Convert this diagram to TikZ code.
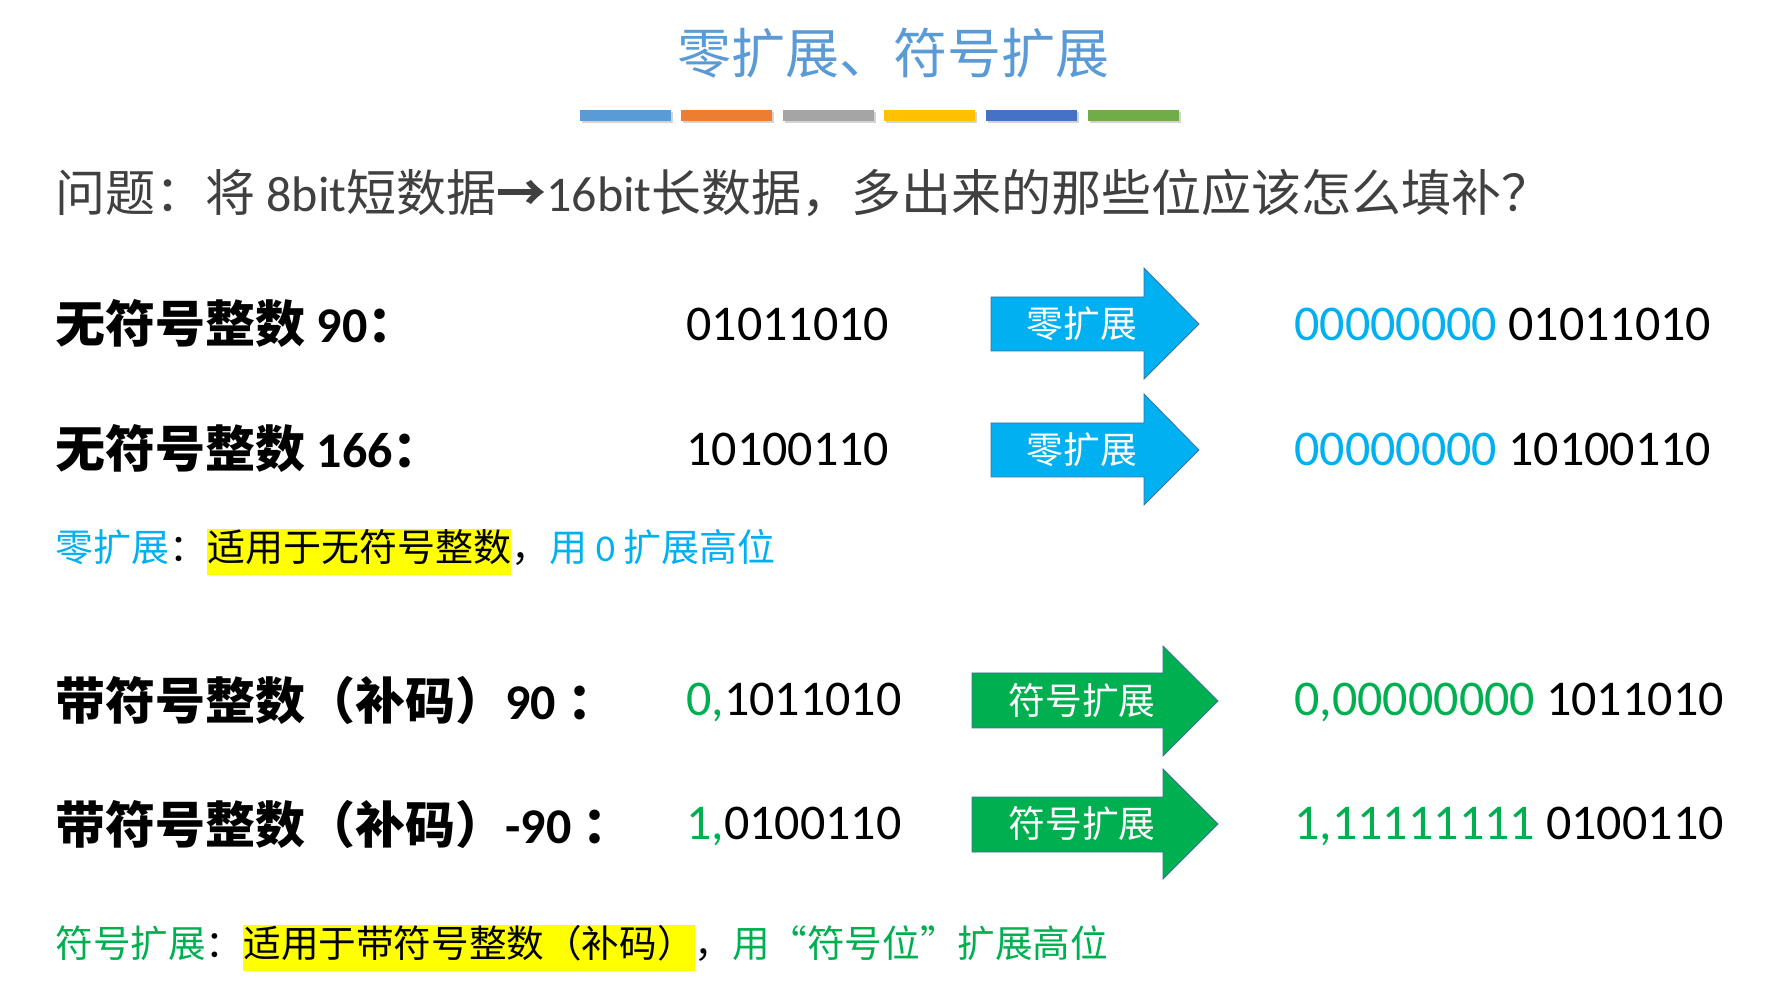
\documentclass[tikz,border=0pt]{standalone}
\usepackage{fontspec}
\setmainfont{Carlito}
\newfontfamily\cjk{Noto Sans CJK SC}
\usetikzlibrary{positioning,shadows}

\definecolor{titleblue}{HTML}{5B9BD5}
\definecolor{barorange}{HTML}{ED7D31}
\definecolor{bargray}{HTML}{A5A5A5}
\definecolor{baryellow}{HTML}{FFC000}
\definecolor{bardarkblue}{HTML}{4472C4}
\definecolor{bargreen}{HTML}{70AD47}
\definecolor{zeroblue}{HTML}{00B0F0}
\definecolor{signgreen}{HTML}{00B050}
\definecolor{edgeblue}{HTML}{41719C}
\definecolor{textgray}{HTML}{404040}
\definecolor{hlyellow}{HTML}{FFFF00}

\newcommand\hl[1]{{\setlength{\fboxsep}{0pt}\colorbox{hlyellow}{\strut #1}}}

\tikzset{
  rowlabel/.style={anchor=west, inner sep=0pt, font=\fontsize{25}{29}\selectfont\bfseries},
  bits/.style={anchor=west, inner sep=0pt, font=\fontsize{25}{30}\selectfont},
  note/.style={anchor=west, inner sep=0pt, font=\fontsize{19}{23}\selectfont},
  zeroarrow/.style={fill=zeroblue, draw=edgeblue, thin},
  signarrow/.style={fill=signgreen, draw=edgeblue, thin},
  arrowtext/.style={text=white, inner sep=0pt, font=\cjk\fontsize{18.4}{22}\selectfont},
  bar/.style={drop shadow={shadow xshift=0.8pt, shadow yshift=-1.2pt, opacity=0.35}}
}

\begin{document}
\begin{tikzpicture}[x=0.5pt,y=-0.5pt]
  \useasboundingbox (0,0) rectangle (1784,983);

  % title and colour bars
  \node (title) at (893,53) {\cjk\fontsize{27}{32}\selectfont\color{titleblue}零扩展、符号扩展};
  \fill [titleblue,bar]   (580,110) rectangle ++(91,11);
  \fill [barorange,bar]   (681,110) rectangle ++(91,11);
  \fill [bargray,bar]     (783,110) rectangle ++(91,11);
  \fill [baryellow,bar]   (884,110) rectangle ++(91,11);
  \fill [bardarkblue,bar] (986,110) rectangle ++(91,11);
  \fill [bargreen,bar]    (1088,110) rectangle ++(91,11);

  % question
  \node [anchor=west, inner sep=0pt, font=\fontsize{25}{29}\selectfont, text=textgray] (question) at (55,193)
    {{\cjk 问题：将 }8bit{\cjk 短数据}\textbf{\cjk →}16bit{\cjk 长数据，多出来的那些位应该怎么填补？}};

  % zero extension
  \node [rowlabel] (u90) at (55,324) {{\cjk 无符号整数 }90{\cjk ：}};
  \node [bits] (u90in) at (686,324) {01011010};
  \draw [zeroarrow] (991,297) -- ++(153,0) -- ++(0,-29) -- ++(55,56) -- ++(-55,55) -- ++(0,-28) -- ++(-153,0) -- cycle;
  \node [arrowtext] (zx1) at (1082,324) {零扩展};
  \node [bits] (u90out) at (1294,324) {\textcolor{zeroblue}{00000000} 01011010};

  \node [rowlabel] (u166) at (55,449) {{\cjk 无符号整数 }166{\cjk ：}};
  \node [bits] (u166in) at (686,449) {10100110};
  \draw [zeroarrow] (991,423) -- ++(153,0) -- ++(0,-29) -- ++(55,56) -- ++(-55,55) -- ++(0,-28) -- ++(-153,0) -- cycle;
  \node [arrowtext] (zx2) at (1082,450) {零扩展};
  \node [bits] (u166out) at (1294,449) {\textcolor{zeroblue}{00000000} 10100110};

  \node [note] (zeronote) at (55,552)
    {{\cjk\color{zeroblue}零扩展}{\cjk ：}\hl{\cjk 适用于无符号整数}{\cjk ，}{\color{zeroblue}{\cjk 用 }0 {\cjk 扩展高位}}};

  % sign extension
  \node [rowlabel] (s90) at (55,700) {{\cjk 带符号整数（补码）}90 {\cjk ：}};
  \node [bits] (s90in) at (686,702) {\textcolor{signgreen}{0,}1011010};
  \draw [signarrow] (972,673) -- ++(191,0) -- ++(0,-27) -- ++(55,55) -- ++(-55,55) -- ++(0,-28) -- ++(-191,0) -- cycle;
  \node [arrowtext] (sx1) at (1082,701) {符号扩展};
  \node [bits] (s90out) at (1294,702) {\textcolor{signgreen}{0,00000000} 1011010};

  \node [rowlabel] (sm90) at (55,824) {{\cjk 带符号整数（补码）}-90 {\cjk ：}};
  \node [bits] (sm90in) at (686,826) {\textcolor{signgreen}{1,}0100110};
  \draw [signarrow] (972,797) -- ++(191,0) -- ++(0,-28) -- ++(55,55) -- ++(-55,55) -- ++(0,-27) -- ++(-191,0) -- cycle;
  \node [arrowtext] (sx2) at (1082,824) {符号扩展};
  \node [bits] (sm90out) at (1294,826) {\textcolor{signgreen}{1,11111111} 0100110};

  \node [note, font=\fontsize{18.8}{23}\selectfont] (signnote) at (55,948)
    {{\cjk\color{signgreen}符号扩展}{\cjk ：}\hl{\cjk 适用于带符号整数（补码）}{\cjk ，}{\color{signgreen}\cjk 用“符号位”扩展高位}};

\end{tikzpicture}
\end{document}
